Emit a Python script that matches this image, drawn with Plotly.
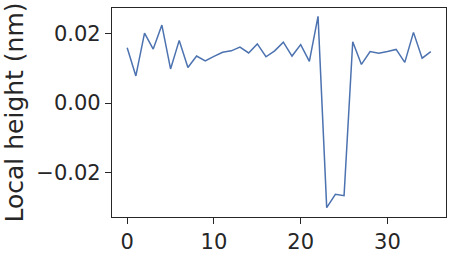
import plotly.graph_objects as go

x_index = list(range(36))
local_height = [
    0.0159, 0.0078, 0.0201, 0.0155, 0.0224, 0.0098, 0.0180, 0.0102, 0.0135, 0.0121,
    0.0134, 0.0146, 0.0150, 0.0161, 0.0144, 0.0170, 0.0133, 0.0150, 0.0175, 0.0135,
    0.0168, 0.0120, 0.0249, -0.0300, -0.0262, -0.0266, 0.0176, 0.0111, 0.0148, 0.0143,
    0.0148, 0.0154, 0.0117, 0.0203, 0.0129, 0.0148,
]
x_ticks = [0, 10, 20, 30]
y_ticks = [-0.02, 0.0, 0.02]
y_tick_labels = ["\u22120.02", "0.00", "0.02"]

fig = go.Figure()
fig.add_trace(go.Scatter(
    x=x_index, y=local_height, mode="lines",
    line=dict(color="#4C72B0", width=1.5),
    showlegend=False,
))

axis_common = dict(
    showgrid=False, zeroline=False, showline=True, linecolor="#262626", linewidth=1.25,
    mirror=True, ticks="outside", ticklen=6, tickwidth=1.25, tickcolor="#262626",
    tickfont=dict(family="DejaVu Sans", size=21, color="#262626"),
)
fig.update_xaxes(range=[-1.75, 36.75], tickvals=x_ticks, **axis_common)
fig.update_yaxes(
    range=[-0.0327, 0.0273], tickvals=y_ticks, ticktext=y_tick_labels,
    title=dict(text="Local height (nm)", font=dict(family="DejaVu Sans", size=25, color="#262626"), standoff=8),
    **axis_common,
)
fig.update_layout(
    width=454, height=261,
    margin=dict(l=112, r=8, t=7, b=37),
    paper_bgcolor="white", plot_bgcolor="white",
)
fig.write_html("out.html")
